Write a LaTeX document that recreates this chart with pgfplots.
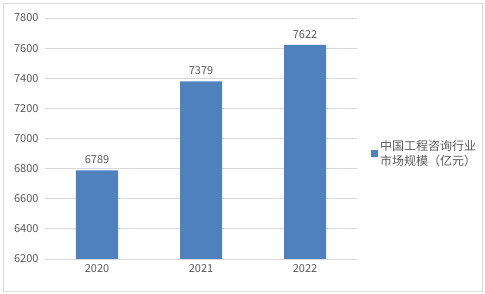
\documentclass[border=0pt]{standalone}
\usepackage{pgfplots}
\pgfplotsset{compat=1.18}
\usepackage{fontspec}
\setmainfont{Noto Sans CJK SC}
\definecolor{barblue}{HTML}{4F81BD}
\definecolor{txtgray}{HTML}{595959}
\definecolor{gridgray}{HTML}{D9D9D9}
\begin{document}
\begin{tikzpicture}
\path[use as bounding box] (0pt,0pt) rectangle (485pt,294pt);
\draw[gridgray, line width=0.8pt] (3pt,3pt) rectangle (482pt,291pt);
\begin{axis}[
  at={(45pt,35pt)}, anchor=south west,
  scale only axis, width=312pt, height=241pt,
  xmin=-0.5, xmax=2.5, ymin=6200, ymax=7800,
  ytick={6200,6400,...,7800},
  xtick={0,1,2}, xticklabels={2020,2021,2022},
  ybar, bar width=42pt,
  axis x line*=bottom, axis y line*=left,
  x axis line style={gridgray, line width=0.8pt, -},
  y axis line style={draw=none},
  ymajorgrids, grid style={gridgray, line width=0.8pt},
  major tick length=0pt,
  tick label style={font=\fontsize{11}{12}\selectfont, color=txtgray},
  /pgf/number format/assume math mode=true,
  /pgf/number format/.cd, 1000 sep={}, /pgfplots/.cd,
  yticklabel style={xshift=-3pt},
  xticklabel style={yshift=-2pt},
  nodes near coords,
  every node near coord/.append style={font=\fontsize{11}{12}\selectfont, color=txtgray, yshift=3pt},
  legend style={at={(1.045,0.435)}, anchor=west, draw=none, fill=none,
    font=\fontsize{12}{15}\selectfont, text=txtgray, cells={align=left},
    inner sep=0pt},
  legend image code/.code={\fill[barblue] (0pt,-3pt) rectangle (7pt,4pt);},
]
\addplot[fill=barblue, draw=none] coordinates {(0,6789) (1,7379) (2,7622)};
\legend{中国工程咨询行业\\市场规模（亿元）}
\end{axis}
\end{tikzpicture}
\end{document}
